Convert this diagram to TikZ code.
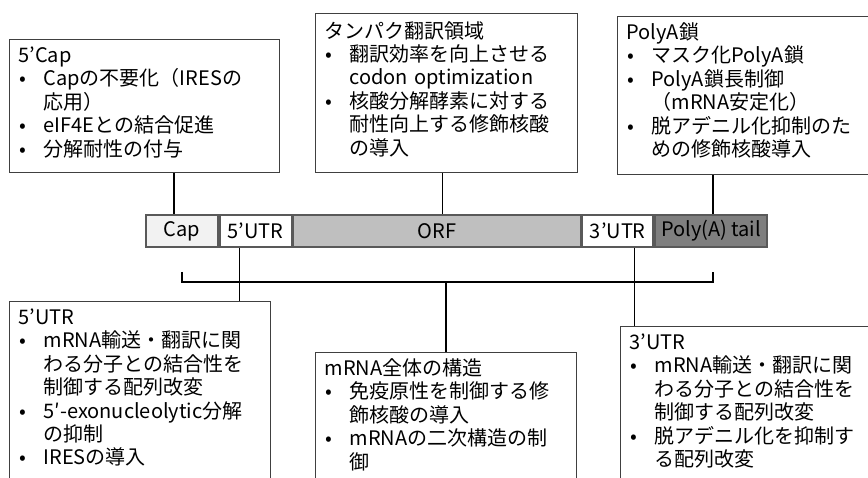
\documentclass[tikz,border=0pt]{standalone}
\usepackage{fontspec}
\setmainfont{Noto Sans CJK JP}
\usepackage{tikz}
\usetikzlibrary{positioning}

\definecolor{boxgray}{HTML}{404040}
\definecolor{segline}{HTML}{595959}
\definecolor{capfill}{HTML}{F2F2F2}
\definecolor{orffill}{HTML}{BFBFBF}
\definecolor{tailfill}{HTML}{7F7F7F}

\newcommand{\bul}{\makebox[25pt][l]{\hspace{1pt}•}}
\newcommand{\ind}{\makebox[25pt]{}}

\begin{document}
\begin{tikzpicture}[x=1pt, y=-1pt,
			font=\fontsize{20}{23.4}\selectfont,
			infobox/.style={draw=boxgray, line width=1pt, anchor=north west,
				align=left, inner xsep=9pt, inner ysep=6.5pt, text height=16.5pt},
			openbox/.style={infobox, text depth=200pt},
			segment/.style={draw=segline, line width=1.8pt, minimum height=32pt,
				inner sep=0pt},
			link/.style={draw=black, line width=1.4pt}]

			\useasboundingbox (0,0) rectangle (868,477);
			\clip (0,0) rectangle (868,477);

			% mRNA bar
			\node[segment, fill=capfill, minimum width=72pt, anchor=north west] (capseg) at (145,214) {Cap};
			\node[segment, fill=white, minimum width=72pt, right=0pt of capseg] (utr5seg) {5’UTR};
			\node[segment, fill=orffill, minimum width=287pt, right=0pt of utr5seg] (orf) {ORF};
			\node[segment, fill=white, minimum width=71pt, right=0pt of orf] (utr3seg) {3’UTR};
			\node[segment, fill=tailfill, minimum width=112pt, right=0pt of utr3seg] (polya) {Poly(A) tail};

			% upper boxes
			\node[infobox, text width=252pt, text depth=103.5pt] (capbox) at (9,39) {5’Cap\\
				\bul Capの不要化（IRESの\\
				\ind 応用）\\
				\bul eIF4Eとの結合促進\\
				\bul 分解耐性の付与};
			\node[infobox, text width=244pt, text depth=126.5pt, inner ysep=8pt] (transbox) at (315,13) {タンパク翻訳領域\\
				\bul 翻訳効率を向上させる\\
				\ind codon optimization\\
				\bul 核酸分解酵素に対する\\
				\ind 耐性向上する修飾核酸\\
				\ind の導入};
			\node[infobox, text width=245pt, text depth=128.5pt] (polybox) at (617,16) {PolyA鎖\\
				\bul マスク化PolyA鎖\\
				\bul PolyA鎖長制御\\
				\ind （mRNA安定化）\\
				\bul 脱アデニル化抑制のた\\
				\ind めの修飾核酸導入};

			% lower boxes
			\node[openbox, text width=243pt] (utr5box) at (9,301) {5’UTR\\
				\bul mRNA輸送・翻訳に関\\
				\ind わる分子との結合性を\\
				\ind 制御する配列改変\\
				\bul \mbox{5′-exonucleolytic分解}\\
				\ind の抑制\\
				\bul IRESの導入};
			\node[openbox, text width=243pt] (mrnabox) at (315,352) {mRNA全体の構造\\
				\bul 免疫原性を制御する修\\
				\ind 飾核酸の導入\\
				\bul mRNAの二次構造の制\\
				\ind 御};
			\node[openbox, text width=242pt] (utr3box) at (620,326) {3’UTR\\
				\bul mRNA輸送・翻訳に関\\
				\ind わる分子との結合性を\\
				\ind 制御する配列改変\\
				\bul 脱アデニル化を抑制す\\
				\ind る配列改変};

			% connectors
			\draw[link] ([xshift=-8pt]capseg.north) -- ([xshift=-8pt]capseg.north |- capbox.south);
			\draw[link] ([xshift=5.5pt]orf.north) -- ([xshift=5.5pt]orf.north |- transbox.south);
			\draw[link] ([xshift=2pt]polya.north) -- ([xshift=2pt]polya.north |- polybox.south);
			\draw[link] ([xshift=-16pt]utr5seg.south) -- ([xshift=-16pt]utr5seg.south |- utr5box.north);
			\draw[link] ([xshift=16.5pt]utr3seg.south) -- ([xshift=16.5pt]utr3seg.south |- utr3box.north);

			\coordinate (brl) at ([yshift=-34pt]capseg.south);
			\coordinate (brr) at ([yshift=-34pt, xshift=2pt]polya.south);
			\draw[link] ([yshift=10pt]brl) -- (brl) -- (brr) -- ([yshift=10pt]brr);
			\draw[link] (mrnabox.north) -- (mrnabox.north |- brl);
		\end{tikzpicture}
\end{document}
